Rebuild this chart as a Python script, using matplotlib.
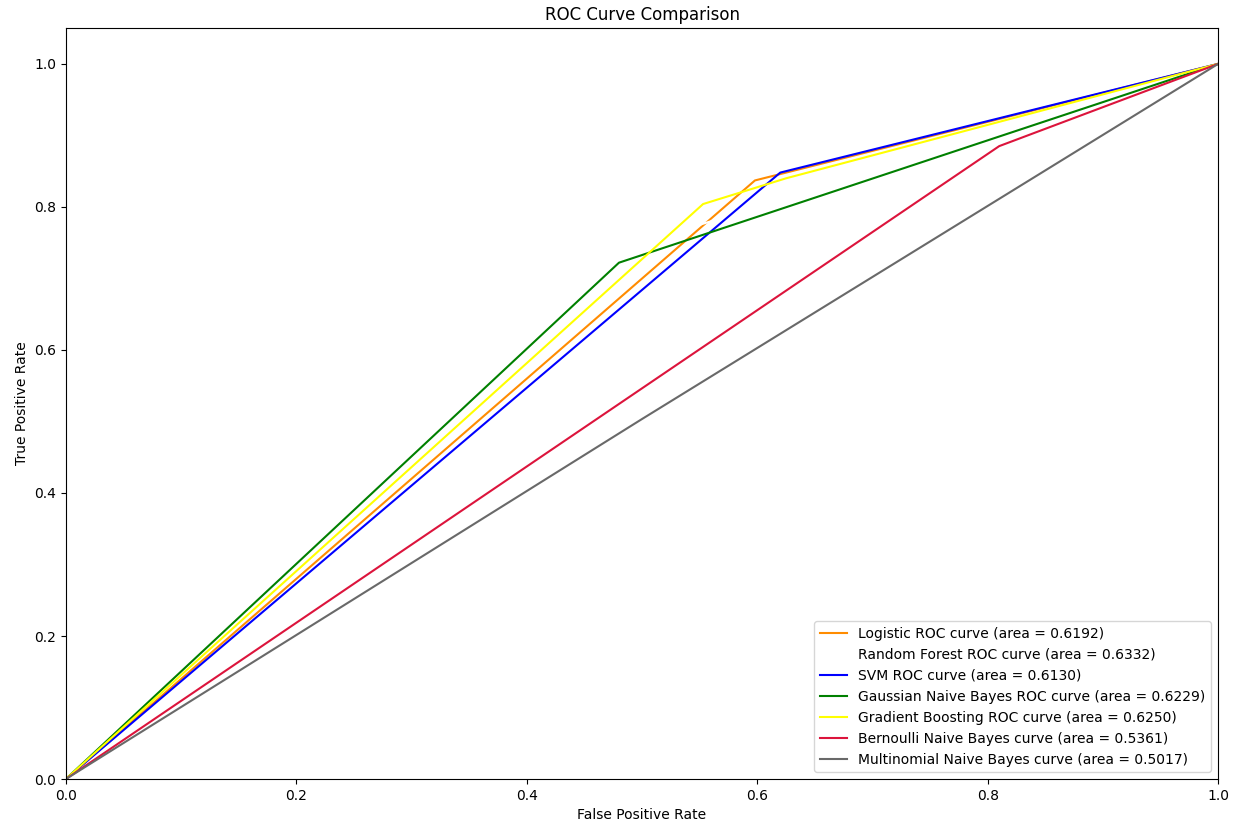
import matplotlib
matplotlib.use("Agg")
import matplotlib.pyplot as plt

# ROC points (fpr, tpr) per model
models = ["Logistic", "Random Forest", "SVM", "Gaussian Naive Bayes",
          "Gradient Boosting", "Bernoulli Naive Bayes", "Multinomial Naive Bayes"]
kinds = ["ROC curve", "ROC curve", "ROC curve", "ROC curve",
         "ROC curve", "curve", "curve"]
aucs = [0.6192, 0.6332, 0.6130, 0.6229, 0.6250, 0.5361, 0.5017]
colors = ["darkorange", "white", "blue", "green", "yellow", "crimson", "dimgray"]

fpr_log = [0.0, 0.598, 1.0]
tpr_log = [0.0, 0.837, 1.0]
fpr_rf = [0.0, 0.46, 1.0]
tpr_rf = [0.0, 0.73, 1.0]
fpr_svm = [0.0, 0.62, 1.0]
tpr_svm = [0.0, 0.848, 1.0]
fpr_gnb = [0.0, 0.48, 1.0]
tpr_gnb = [0.0, 0.722, 1.0]
fpr_gb = [0.0, 0.553, 0.625, 1.0]
tpr_gb = [0.0, 0.804, 0.84, 1.0]
fpr_bnb = [0.0, 0.81, 1.0]
tpr_bnb = [0.0, 0.885, 1.0]
fpr_mnb = [0.0, 0.5, 1.0]
tpr_mnb = [0.0, 0.5034, 1.0]

fprs = [fpr_log, fpr_rf, fpr_svm, fpr_gnb, fpr_gb, fpr_bnb, fpr_mnb]
tprs = [tpr_log, tpr_rf, tpr_svm, tpr_gnb, tpr_gb, tpr_bnb, tpr_mnb]

fig = plt.figure(figsize=(12.43, 8.27), dpi=100)
ax = fig.add_axes([0.053, 0.058, 0.927, 0.908])

for name, kind, auc, c, fpr, tpr in zip(models, kinds, aucs, colors, fprs, tprs):
    ax.plot(fpr, tpr, color=c, lw=1.5, label=f"{name} {kind} (area = {auc:.4f})")

ax.set_xlim(0.0, 1.0)
ax.set_ylim(0.0, 1.05)
ax.set_xlabel("False Positive Rate")
ax.set_ylabel("True Positive Rate")
ax.set_title("ROC Curve Comparison")
ax.legend(loc="lower right")

fig.savefig("out.png", dpi=100)
